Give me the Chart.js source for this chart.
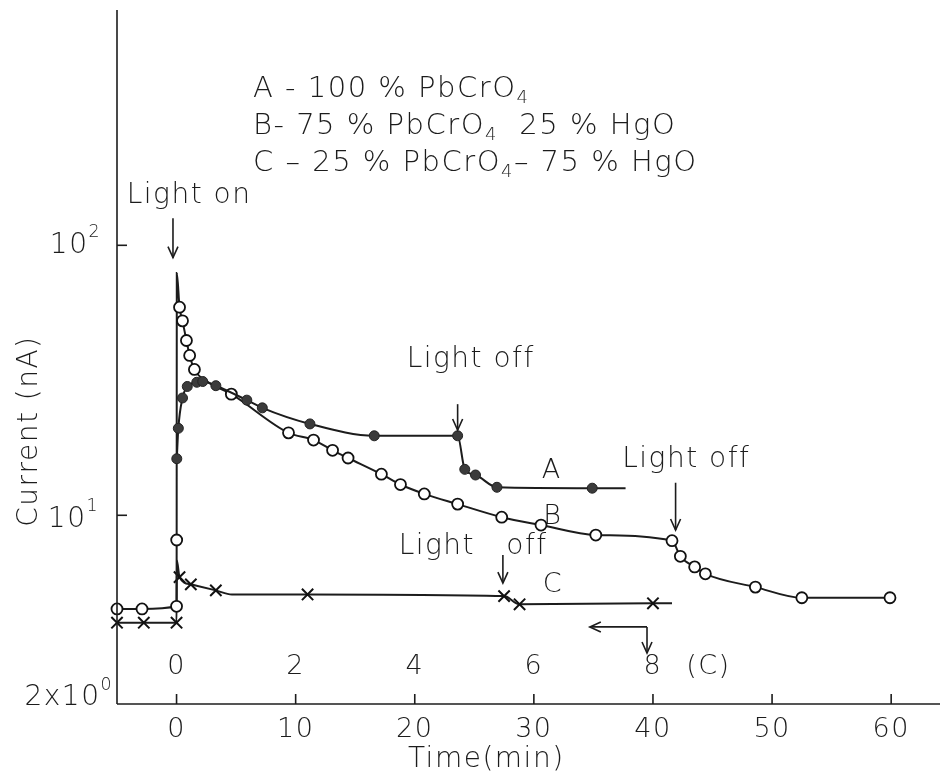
<!DOCTYPE html>
<html>
<head>
<meta charset="utf-8">
<script src="https://cdn.jsdelivr.net/npm/chart.js@4.4.1/dist/chart.umd.min.js"></script>
<style>
  html, body { margin: 0; padding: 0; background: #ffffff; }
  #wrap { width: 950px; height: 780px; position: relative; }
</style>
</head>
<body>
<div id="wrap"><canvas id="c" width="950" height="780"></canvas></div>
<script>
// ---------------- data ----------------
// Curve A : 100 % PbCrO4 (filled dots), time in min, current in nA
const timeA    = [0.02, 0.15, 0.5, 0.9, 1.7, 2.2, 3.3, 5.9, 7.2, 11.2, 16.6, 23.6, 24.2, 25.1, 26.9, 34.9, 37.7];
const currentA = [16.2, 21.0, 27.2, 30.0, 31.1, 31.3, 30.2, 26.7, 25.0, 21.8, 19.7, 19.7, 14.8, 14.1, 12.7, 12.6, 12.6];
const plainA   = [16];                       // curve-only points (no marker)

// Curve B : 75 % PbCrO4 - 25 % HgO (open circles)
const timeB    = [-5, -2.9, 0, 0.01, 0.02, 0.25, 0.5, 0.83, 1.1, 1.5, 2.7, 4.6, 9.4, 11.5, 13.1, 14.4, 17.2, 18.8, 20.8, 23.6, 27.3, 30.6, 35.2, 41.6, 42.3, 43.5, 44.4, 48.6, 52.5, 59.9];
const currentB = [4.5, 4.5, 4.6, 8.1, 79, 59, 52.5, 44.4, 39.1, 34.7, 31.0, 28.1, 20.2, 19.0, 17.4, 16.3, 14.2, 13.0, 12.0, 11.0, 9.84, 9.2, 8.45, 8.05, 7.05, 6.44, 6.07, 5.42, 4.95, 4.95];
const plainB   = [4, 10];

// Curve C : 25 % PbCrO4 - 75 % HgO (crosses), own time scale (C) in min
const timeC    = [-1, -0.55, 0, 0.005, 0.05, 0.24, 0.66, 0.93, 2.2, 5.5, 5.76, 8.0, 8.32];
const currentC = [4.0, 4.0, 4.0, 6.8, 5.9, 5.55, 5.27, 5.09, 5.09, 5.02, 4.68, 4.72, 4.72];
const plainC   = [3, 7, 12];

// axis ticks
const timeTicks   = [0, 10, 20, 30, 40, 50, 60];
const timeCTicks  = [0, 2, 4, 6, 8];
const currentTicks = [10, 100];

// ---------------- drawing ----------------
const FAM = '"DejaVu Sans", "Liberation Sans", sans-serif';
const INK = '#1c1c1c';

function pts(ts, vs) { return ts.map((t, i) => ({ x: t, y: vs[i] })); }
function radiusFn(plain, r) { const s = new Set(plain); return ctx => s.has(ctx.dataIndex) ? 0 : r; }

function setFont(ctx, size, weight) {
  ctx.font = (weight || 300) + ' ' + size + 'px ' + FAM;
}
function rich(ctx, x, y, parts, size, align) {
  // parts: [text, mode]; mode '' | 'sub' | 'sup'
  let w = 0;
  for (const [t, m] of parts) { setFont(ctx, m ? size * 0.62 : size); w += ctx.measureText(t).width; }
  let cx = align === 'right' ? x - w : align === 'center' ? x - w / 2 : x;
  ctx.textAlign = 'left';
  ctx.textBaseline = 'middle';
  for (const [t, m] of parts) {
    setFont(ctx, m ? size * 0.62 : size);
    const dy = m === 'sub' ? size * 0.33 : m === 'sup' ? -size * 0.45 : 0;
    ctx.fillText(t, cx, y + dy);
    cx += ctx.measureText(t).width;
  }
}
function line(ctx, x1, y1, x2, y2) { ctx.beginPath(); ctx.moveTo(x1, y1); ctx.lineTo(x2, y2); ctx.stroke(); }
function arrowDown(ctx, x, y1, y2) {
  line(ctx, x, y1, x, y2);
  ctx.beginPath(); ctx.moveTo(x - 5, y2 - 11); ctx.lineTo(x, y2); ctx.lineTo(x + 5, y2 - 11); ctx.stroke();
}
function arrowLeft(ctx, x1, x2, y) {
  line(ctx, x1, y, x2, y);
  ctx.beginPath(); ctx.moveTo(x2 + 11, y - 5); ctx.lineTo(x2, y); ctx.lineTo(x2 + 11, y + 5); ctx.stroke();
}

const decor = {
  id: 'decor',
  afterDatasetsDraw(chart) {
    const ctx = chart.ctx, a = chart.chartArea;
    const X = chart.scales.x, XC = chart.scales.xC, Y = chart.scales.y;
    ctx.save();
    ctx.strokeStyle = INK; ctx.fillStyle = INK; ctx.lineWidth = 1.6;
    if ('letterSpacing' in ctx) ctx.letterSpacing = '1.5px';

    // axes
    line(ctx, a.left, a.top, a.left, a.bottom);
    line(ctx, a.left, a.bottom, a.right, a.bottom);
    for (const t of timeTicks) { const x = X.getPixelForValue(t); line(ctx, x, a.bottom, x, a.bottom - 10); }
    for (const v of currentTicks) { const y = Y.getPixelForValue(v); line(ctx, a.left, y, a.left + 10, y); }

    // tick labels
    setFont(ctx, 27); ctx.textAlign = 'center'; ctx.textBaseline = 'middle';
    for (const t of timeTicks) ctx.fillText(String(t), X.getPixelForValue(t), a.bottom + 26);
    for (const t of timeCTicks) ctx.fillText(String(t), XC.getPixelForValue(t), a.bottom - 37);
    ctx.fillText('(C)', XC.getPixelForValue(8.93), a.bottom - 37);

    rich(ctx, a.left - 16, Y.getPixelForValue(100), [['10', ''], ['2', 'sup']], 28, 'right');
    rich(ctx, a.left - 18, Y.getPixelForValue(10) + 4, [['10', ''], ['1', 'sup']], 28, 'right');
    rich(ctx, a.left - 4, Y.getPixelForValue(2) - 6, [['2x10', ''], ['0', 'sup']], 28, 'right');

    // axis titles
    setFont(ctx, 28); ctx.textAlign = 'center';
    ctx.fillText('Time(min)', X.getPixelForValue(26), a.bottom + 56);
    ctx.save(); ctx.translate(30, Y.getPixelForValue(20.5)); ctx.rotate(-Math.PI / 2);
    ctx.fillText('Current (nA)', 0, 0); ctx.restore();

    // legend text
    rich(ctx, 253, 89, [['A - 100 % PbCrO', ''], ['4', 'sub']], 29, 'left');
    rich(ctx, 253, 126, [['B- 75 % PbCrO', ''], ['4', 'sub'], ['  25 % HgO', '']], 29, 'left');
    rich(ctx, 253, 163, [['C – 25 % PbCrO', ''], ['4', 'sub'], ['– 75 % HgO', '']], 29, 'left');

    // annotations (anchored in data coordinates)
    setFont(ctx, 28); ctx.textAlign = 'center'; ctx.textBaseline = 'middle';
    ctx.fillText('Light on', X.getPixelForValue(1.05), Y.getPixelForValue(152));
    arrowDown(ctx, X.getPixelForValue(-0.3), Y.getPixelForValue(126), Y.getPixelForValue(90));

    ctx.fillText('Light off', X.getPixelForValue(24.7), Y.getPixelForValue(37.6));
    arrowDown(ctx, X.getPixelForValue(23.6), Y.getPixelForValue(25.8), Y.getPixelForValue(20.7));

    ctx.fillText('Light off', X.getPixelForValue(42.8), Y.getPixelForValue(16.0));
    arrowDown(ctx, X.getPixelForValue(41.9), Y.getPixelForValue(13.2), Y.getPixelForValue(8.82));

    ctx.fillText('Light   off', X.getPixelForValue(24.9), Y.getPixelForValue(7.63));
    arrowDown(ctx, XC.getPixelForValue(5.48), Y.getPixelForValue(7.13), Y.getPixelForValue(5.61));

    // pointer to the (C) time axis
    const hx1 = XC.getPixelForValue(7.9), hx2 = XC.getPixelForValue(6.94), hy = Y.getPixelForValue(3.86);
    arrowLeft(ctx, hx1, hx2, hy);
    arrowDown(ctx, hx1, hy, Y.getPixelForValue(3.09));

    // curve labels
    setFont(ctx, 27);
    ctx.fillText('A', X.getPixelForValue(31.5), Y.getPixelForValue(14.6));
    ctx.fillText('B', X.getPixelForValue(31.6), Y.getPixelForValue(9.85));
    ctx.fillText('C', X.getPixelForValue(31.6), Y.getPixelForValue(5.52));
    ctx.restore();
  }
};

new Chart(document.getElementById('c'), {
  type: 'scatter',
  data: {
    datasets: [
      {
        label: 'A', data: pts(timeA, currentA), showLine: true, order: 0, clip: false,
        borderColor: INK, borderWidth: 2, cubicInterpolationMode: 'monotone',
        pointStyle: 'circle', pointRadius: radiusFn(plainA, 5),
        pointBackgroundColor: '#3b3b3b', pointBorderColor: '#222', pointBorderWidth: 1
      },
      {
        label: 'B', data: pts(timeB, currentB), showLine: true, order: 1, clip: false,
        borderColor: INK, borderWidth: 2, cubicInterpolationMode: 'monotone',
        pointStyle: 'circle', pointRadius: radiusFn(plainB, 5.5),
        pointBackgroundColor: '#ffffff', pointBorderColor: '#111', pointBorderWidth: 1.8
      },
      {
        label: 'C', data: pts(timeC, currentC), showLine: true, order: 2, clip: false, xAxisID: 'xC',
        borderColor: INK, borderWidth: 2, cubicInterpolationMode: 'monotone',
        pointStyle: 'crossRot', pointRadius: radiusFn(plainC, 8),
        pointBorderColor: '#111', pointBorderWidth: 2
      }
    ]
  },
  options: {
    responsive: false, animation: false, devicePixelRatio: 1,
    layout: { padding: { left: 117, right: 0, top: 10, bottom: 76 } },
    plugins: { legend: { display: false }, tooltip: { enabled: false } },
    elements: { point: { hoverRadius: 0 } },
    scales: {
      x:  { type: 'linear', min: -5, max: 64.1, display: false },
      xC: { type: 'linear', min: -1, max: 12.82, display: false },
      y:  { type: 'logarithmic', min: 2, max: 744, display: false }
    }
  },
  plugins: [decor]
});
</script>
</body>
</html>
